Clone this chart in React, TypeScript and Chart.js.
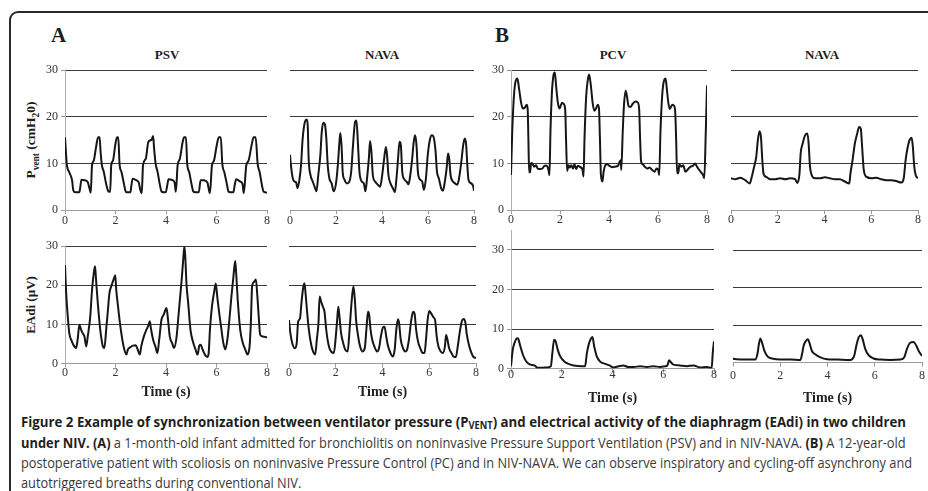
import React, { useEffect, useLayoutEffect, useRef } from 'react';
import { Chart, registerables } from 'chart.js';

Chart.register(...registerables);

// ---------------- DATA (time s, value) ----------------
const xTicks = [0, 2, 4, 6, 8];
const yTicks = [0, 10, 20, 30];

const psvPressure = [
  [0, 15.6], [0.07, 9.9], [0.17, 8.1], [0.28, 6.4], [0.33, 4.2], [0.41, 3.8], [0.57, 3.8], [0.6, 4.7], [0.65, 6.5], [0.77, 6.4], [0.9, 6.0], [0.97, 4.6], [1.02, 3.7],
  [1.07, 9.6], [1.14, 10.6], [1.23, 13.5], [1.31, 15.6], [1.37, 15.6], [1.41, 12.4], [1.46, 9.7], [1.54, 8.1], [1.63, 5.6], [1.72, 4.0], [1.79, 3.9],
  [1.83, 9.6], [1.9, 10.6], [1.99, 13.9], [2.06, 15.6], [2.11, 15.6], [2.16, 9.9], [2.24, 8.1], [2.32, 6.0], [2.39, 4.2], [2.43, 3.8], [2.59, 3.8], [2.63, 5.3], [2.68, 6.7], [2.82, 6.4], [2.92, 5.9], [2.98, 4.4], [3.04, 3.6],
  [3.09, 9.6], [3.2, 11], [3.3, 14.6], [3.43, 15.1], [3.49, 15.9], [3.53, 13.1], [3.59, 9.9], [3.67, 8.1], [3.75, 5.6], [3.82, 4.0], [3.89, 3.8], [3.99, 3.8], [4.05, 5.3], [4.1, 6.6], [4.26, 6.4], [4.34, 5.9], [4.39, 3.9],
  [4.46, 9.6], [4.55, 11], [4.66, 14.6], [4.72, 15.6], [4.79, 15.6], [4.84, 9.9], [4.92, 8.1], [5.01, 5.6], [5.08, 4.0], [5.15, 3.8], [5.3, 3.8], [5.37, 6.4], [5.5, 6.4], [5.64, 5.9], [5.69, 4.6], [5.74, 3.6],
  [5.82, 9.6], [5.9, 10.6], [6.01, 13.9], [6.09, 15.6], [6.17, 15.6], [6.23, 9.9], [6.31, 8.1], [6.41, 5.6], [6.47, 4.0], [6.54, 3.8], [6.67, 3.8], [6.72, 5.3], [6.78, 6.6], [6.94, 6.1], [7.03, 5.6], [7.08, 3.6],
  [7.18, 9.6], [7.27, 10.6], [7.39, 13.9], [7.47, 15.6], [7.55, 15.6], [7.63, 9.9], [7.71, 8.1], [7.8, 5.3], [7.86, 4.0], [7.93, 3.8], [8.0, 3.7],
];

const navaAPressure = [
  [0, 11.8], [0.04, 9.6], [0.12, 6.8], [0.19, 6.1], [0.26, 6.0], [0.33, 4.7], [0.41, 6.5], [0.48, 9.6], [0.55, 15.3], [0.65, 18.9], [0.73, 19.4], [0.77, 18.2], [0.81, 11.1], [0.89, 7.5], [0.99, 6.1], [1.09, 4.7], [1.15, 4.0],
  [1.23, 7.5], [1.32, 11.8], [1.38, 16.7], [1.45, 18.7], [1.52, 18.3], [1.58, 15.3], [1.64, 9.6], [1.71, 6.8], [1.81, 5.7], [1.9, 4.0], [2.0, 5.7], [2.08, 9.6], [2.15, 14.6], [2.19, 16.5], [2.24, 13.9], [2.29, 8.2],
  [2.37, 6.5], [2.48, 5.7], [2.58, 6.1], [2.66, 8.2], [2.74, 13.9], [2.83, 18.9], [2.89, 19.2], [2.95, 14.6], [3.02, 8.2], [3.12, 6.1], [3.21, 5.7], [3.28, 4.0], [3.35, 6.8], [3.43, 11.1], [3.48, 14.8], [3.54, 12.5],
  [3.6, 7.5], [3.7, 6.1], [3.82, 5.4], [3.92, 5.0], [3.99, 6.8], [4.08, 10.4], [4.17, 13.5], [4.22, 11.8], [4.28, 7.5], [4.37, 5.7], [4.47, 4.7], [4.56, 3.8], [4.63, 6.8], [4.7, 11.1], [4.76, 14.6], [4.82, 13.9],
  [4.88, 8.2], [4.98, 6.5], [5.08, 6.0], [5.15, 5.5], [5.21, 6.8], [5.3, 10.4], [5.38, 14.6], [5.44, 16.0], [5.5, 13.9], [5.56, 8.2], [5.66, 6.5], [5.75, 6.1], [5.82, 4.3], [5.91, 6.8], [5.99, 11.8], [6.08, 15.0],
  [6.17, 16.0], [6.26, 15.3], [6.33, 12.5], [6.39, 8.2], [6.47, 6.8], [6.57, 4.7], [6.65, 4.1], [6.72, 5.7], [6.81, 8.9], [6.87, 12.1], [6.92, 11.1], [6.98, 7.5], [7.08, 6.1], [7.18, 5.7], [7.27, 5.4], [7.34, 6.5],
  [7.45, 10.4], [7.53, 13.9], [7.6, 15.3], [7.66, 13.9], [7.71, 9.6], [7.76, 6.5], [7.88, 5.7], [7.97, 5.0], [8.0, 4.1],
];

const psvEadi = [
  [0, 25.2], [0.04, 18.8], [0.11, 12.0], [0.17, 7.8], [0.27, 5.7], [0.37, 4.4], [0.44, 4.0], [0.5, 6.1], [0.57, 9.9], [0.64, 8.6], [0.7, 7.8], [0.77, 6.9], [0.84, 4.4], [0.9, 6.9], [1.0, 12.0], [1.07, 18.8],
  [1.14, 23.1], [1.19, 24.9], [1.23, 21.4], [1.3, 15.4], [1.37, 10.3], [1.43, 6.9], [1.5, 4.4], [1.56, 4.0], [1.63, 8.6], [1.7, 13.7], [1.76, 18.0], [1.83, 19.7], [1.92, 21.4], [1.99, 22.6], [2.03, 18.8],
  [2.1, 14.6], [2.16, 11.2], [2.23, 7.8], [2.32, 4.4], [2.43, 2.3], [2.49, 3.6], [2.59, 4.2], [2.69, 4.6], [2.8, 4.7], [2.88, 3.6], [2.96, 2.3], [3.02, 4.4], [3.12, 6.9], [3.22, 8.6], [3.3, 9.7], [3.36, 10.8],
  [3.4, 9.1], [3.49, 6.1], [3.58, 4.4], [3.66, 2.7], [3.73, 6.1], [3.82, 11.2], [3.91, 12.5], [4.02, 14.2], [4.08, 11.2], [4.15, 6.9], [4.24, 5.3], [4.32, 4.0], [4.42, 6.9], [4.48, 11.2], [4.55, 16.3],
  [4.62, 21.4], [4.68, 26.4], [4.73, 30.0], [4.77, 26.4], [4.81, 20.5], [4.88, 15.4], [4.97, 8.6], [5.08, 5.3], [5.17, 3.6], [5.25, 2.3], [5.32, 4.6], [5.37, 4.8], [5.45, 3.6], [5.54, 2.3], [5.64, 1.7],
  [5.69, 2.7], [5.74, 8.6], [5.82, 14.6], [5.9, 18.0], [5.97, 20.5], [6.03, 17.1], [6.1, 13.3], [6.18, 9.5], [6.27, 5.3], [6.35, 3.6], [6.43, 6.1], [6.51, 11.2], [6.59, 17.1], [6.67, 22.2], [6.74, 26.2],
  [6.78, 23.1], [6.84, 16.3], [6.94, 8.6], [7.04, 5.3], [7.14, 3.6], [7.23, 2.3], [7.31, 4.4], [7.36, 10.3], [7.41, 19.7], [7.49, 20.9], [7.56, 21.5], [7.62, 17.1], [7.68, 11.2], [7.73, 7.4], [7.84, 6.9], [8.0, 6.7],
];

const navaAEadi = [
  [0, 11.1], [0.06, 7.7], [0.14, 5.2], [0.25, 3.9], [0.33, 5.2], [0.39, 10.7], [0.47, 11.5], [0.53, 15.3], [0.6, 19.1], [0.66, 20.5], [0.71, 17.8], [0.78, 12.8], [0.85, 8.6], [0.95, 4.8], [1.03, 3.1], [1.12, 2.3],
  [1.19, 6.1], [1.26, 10.3], [1.31, 17.1], [1.38, 15.7], [1.45, 14.5], [1.52, 13.2], [1.58, 9.4], [1.65, 6.1], [1.73, 3.9], [1.83, 2.9], [1.92, 2.7], [1.99, 6.1], [2.06, 11.1], [2.11, 14.5], [2.16, 11.9],
  [2.23, 7.7], [2.32, 5.2], [2.41, 3.5], [2.51, 3.1], [2.58, 7.7], [2.65, 13.6], [2.71, 17.8], [2.76, 19.7], [2.82, 16.1], [2.87, 11.1], [2.96, 6.9], [3.04, 4.4], [3.14, 3.1], [3.24, 3.9], [3.32, 9.4],
  [3.38, 13.2], [3.43, 12.4], [3.49, 8.6], [3.56, 6.1], [3.65, 4.4], [3.77, 3.1], [3.85, 3.9], [3.93, 6.9], [4.02, 9.2], [4.09, 9.4], [4.16, 6.9], [4.24, 4.4], [4.34, 2.7], [4.44, 1.8], [4.52, 3.5],
  [4.59, 8.6], [4.66, 11.3], [4.71, 10.3], [4.78, 6.1], [4.88, 3.9], [4.97, 3.1], [5.05, 3.5], [5.13, 6.1], [5.23, 11.1], [5.31, 13.2], [5.37, 12.8], [5.44, 8.6], [5.52, 5.6], [5.62, 3.9], [5.72, 2.7],
  [5.8, 2.7], [5.86, 6.1], [5.93, 11.1], [6.0, 13.4], [6.08, 12.8], [6.18, 11.8], [6.25, 11.1], [6.32, 6.9], [6.39, 4.4], [6.49, 3.1], [6.58, 2.7], [6.67, 4.4], [6.72, 7.3], [6.78, 6.1], [6.85, 3.9],
  [6.95, 2.7], [7.04, 1.8], [7.14, 1.7], [7.22, 4.4], [7.32, 8.6], [7.41, 11.1], [7.48, 11.4], [7.55, 10.3], [7.6, 7.7], [7.68, 5.2], [7.78, 3.1], [7.88, 1.8], [8.0, 1.4],
];

const pcvPressure = [
  [0, 7.5], [0.05, 16.7], [0.12, 24.5], [0.19, 27.7], [0.26, 28.2], [0.33, 26.0], [0.41, 23.1], [0.48, 21.8], [0.57, 22.0], [0.64, 22.6], [0.68, 21.7], [0.71, 15.3], [0.74, 8.1], [0.78, 8.1], [0.82, 10.1],
  [0.87, 10.0], [0.94, 9.3], [1.02, 9.6], [1.09, 8.9], [1.19, 8.8], [1.28, 8.9], [1.37, 9.5], [1.46, 9.5], [1.53, 8.6], [1.57, 7.5], [1.61, 16.7], [1.67, 25.2], [1.73, 28.8], [1.79, 29.5], [1.84, 26.7],
  [1.91, 23.1], [1.98, 21.8], [2.08, 23.0], [2.14, 22.8], [2.21, 21.7], [2.25, 14.6], [2.29, 8.4], [2.35, 9.6], [2.4, 9.1], [2.46, 9.6], [2.53, 8.9], [2.59, 9.8], [2.66, 8.8], [2.73, 9.5], [2.83, 9.2],
  [2.92, 8.6], [2.96, 7.2], [3.0, 15.3], [3.07, 24.5], [3.14, 28.1], [3.19, 29.1], [3.26, 26.7], [3.33, 23.1], [3.4, 21.3], [3.47, 21.8], [3.54, 22.6], [3.59, 21.8], [3.63, 15.3], [3.67, 7.5], [3.73, 6.1],
  [3.78, 8.2], [3.85, 9.6], [3.93, 9.8], [4.01, 9.5], [4.12, 9.2], [4.26, 9.3], [4.37, 9.5], [4.44, 10.4], [4.48, 10.7], [4.5, 8.6], [4.56, 16.7], [4.61, 22.4], [4.68, 25.6], [4.74, 24.2], [4.79, 22.4],
  [4.87, 22.1], [4.97, 22.8], [5.08, 23.3], [5.17, 23.1], [5.23, 21.7], [5.27, 15.3], [5.31, 10.4], [5.38, 9.8], [5.46, 9.3], [5.56, 8.9], [5.65, 9.1], [5.76, 8.6], [5.86, 8.2], [5.94, 8.9], [6.01, 8.6],
  [6.05, 7.5], [6.1, 16.7], [6.17, 24.5], [6.24, 27.7], [6.31, 28.2], [6.36, 26.0], [6.42, 23.1], [6.48, 21.7], [6.58, 22.6], [6.65, 22.4], [6.7, 21.3], [6.74, 15.3], [6.78, 7.9], [6.83, 7.9], [6.87, 9.8],
  [6.95, 9.3], [7.03, 9.6], [7.12, 8.2], [7.23, 8.8], [7.33, 9.3], [7.43, 9.5], [7.51, 10.0], [7.56, 9.6], [7.64, 8.9], [7.74, 8.2], [7.84, 7.5], [7.89, 6.8], [7.95, 16.7], [8.0, 26.7],
];

const navaBPressure = [
  [0, 6.8], [0.18, 6.6], [0.4, 6.9], [0.61, 6.4], [0.8, 5.7], [0.89, 7.1], [0.99, 9.3], [1.08, 11.4], [1.15, 15.0], [1.22, 16.9], [1.28, 15.7], [1.34, 10.7], [1.39, 7.8], [1.51, 7.1], [1.68, 6.6],
  [1.89, 6.6], [2.1, 6.8], [2.32, 6.6], [2.53, 6.8], [2.74, 6.6], [2.84, 5.8], [2.93, 7.8], [2.98, 12.1], [3.07, 14.3], [3.17, 16.0], [3.27, 16.4], [3.32, 14.3], [3.38, 9.3], [3.45, 7.5], [3.59, 6.8],
  [3.81, 6.8], [4.02, 7.0], [4.23, 6.8], [4.45, 6.6], [4.66, 6.6], [4.87, 6.1], [5.06, 5.7], [5.11, 7.8], [5.2, 10.7], [5.3, 14.3], [5.4, 16.4], [5.48, 17.8], [5.55, 17.5], [5.61, 13.5], [5.68, 8.6],
  [5.8, 7.1], [6.01, 6.8], [6.22, 6.9], [6.43, 6.6], [6.65, 6.4], [6.86, 6.4], [7.07, 6.2], [7.29, 5.9], [7.39, 6.8], [7.47, 10.7], [7.56, 13.5], [7.64, 15.0], [7.73, 15.5], [7.78, 13.5], [7.84, 9.3],
  [7.9, 7.5], [8.0, 6.8],
];

const pcvEadi = [
  [0, 0.6], [0.07, 4.8], [0.14, 6.5], [0.24, 7.7], [0.29, 7.5], [0.37, 5.6], [0.47, 3.5], [0.6, 1.8], [0.76, 1.0], [0.92, 0.8], [1.05, 0.2], [1.22, 0.2], [1.42, 0.3], [1.57, 0.6], [1.63, 3.9],
  [1.7, 7.3], [1.76, 6.9], [1.84, 4.8], [1.94, 3.1], [2.1, 1.8], [2.27, 1.2], [2.47, 0.8], [2.79, 0.6], [2.92, 0.6], [2.99, 3.9], [3.08, 6.5], [3.16, 7.7], [3.21, 8.0], [3.28, 5.6], [3.38, 3.1],
  [3.51, 1.8], [3.71, 1.2], [3.88, 0.8], [4.04, 0.3], [4.24, 0.6], [4.43, 0.8], [4.63, 0.4], [4.83, 0.4], [5.09, 0.6], [5.35, 0.4], [5.61, 0.6], [5.88, 0.4], [6.07, 0.6], [6.16, 0.8], [6.23, 2.1],
  [6.3, 1.6], [6.4, 1.0], [6.66, 0.8], [6.92, 0.6], [7.19, 0.8], [7.45, 0.3], [7.71, 0.4], [7.91, 0.2], [7.95, 3.9], [8.0, 6.9],
];

const navaBEadi = [
  [0, 1.0], [0.45, 0.8], [0.94, 0.8], [1.04, 2.5], [1.1, 5.1], [1.16, 6.4], [1.23, 5.3], [1.33, 3.1], [1.47, 1.6], [1.65, 1.1], [2.0, 0.8], [2.43, 0.8], [2.85, 0.7], [2.92, 2.2], [2.99, 4.5],
  [3.09, 5.8], [3.17, 6.2], [3.24, 5.2], [3.34, 3.1], [3.48, 2.2], [3.7, 1.4], [3.98, 0.9], [4.4, 0.8], [4.96, 0.7], [5.13, 1.8], [5.22, 4.5], [5.32, 6.7], [5.42, 7.3], [5.49, 6.2], [5.6, 3.6],
  [5.74, 2.0], [5.95, 1.1], [6.23, 0.8], [6.66, 0.7], [7.08, 0.8], [7.25, 1.4], [7.36, 3.6], [7.5, 5.3], [7.64, 5.5], [7.76, 4.5], [7.86, 3.1], [8.0, 1.8],
];

// ---------------- LAYOUT ----------------
const SERIF = '"Liberation Serif", "Times New Roman", "DejaVu Serif", serif';

type PanelSpec = {
  data: number[][];
  left: number; right: number; top: number; bottom: number;
  yMax: number; showY: boolean;
  labelOffset: number; title?: string; titleOffset?: number;
};

const panels: PanelSpec[] = [
  { data: psvPressure, left: 65, right: 267, top: 70, bottom: 210, yMax: 30, showY: true, labelOffset: 11 },
  { data: navaAPressure, left: 290, right: 474, top: 70, bottom: 210, yMax: 30, showY: false, labelOffset: 11 },
  { data: psvEadi, left: 65, right: 267, top: 246, bottom: 364, yMax: 30, showY: true, labelOffset: 9, title: 'Time (s)', titleOffset: 28 },
  { data: navaAEadi, left: 289, right: 476, top: 246, bottom: 364, yMax: 30, showY: false, labelOffset: 9, title: 'Time (s)', titleOffset: 28 },
  { data: pcvPressure, left: 511, right: 707, top: 70, bottom: 210, yMax: 30, showY: true, labelOffset: 10 },
  { data: navaBPressure, left: 731, right: 918, top: 70, bottom: 210, yMax: 30, showY: false, labelOffset: 10 },
  { data: pcvEadi, left: 511, right: 714, top: 369 - 35 * (119 / 30), bottom: 369, yMax: 35, showY: true, labelOffset: 6, title: 'Time (s)', titleOffset: 29 },
  { data: navaBEadi, left: 733, right: 922, top: 250, bottom: 363, yMax: 30, showY: false, labelOffset: 13, title: 'Time (s)', titleOffset: 35 },
];

const PAD_TOP = 10;
const PAD_RIGHT = 8;

function geometry(p: PanelSpec) {
  const yW = p.showY ? 30 : 12;
  const xH = p.title ? (p.titleOffset as number) + 9.4 : p.labelOffset + 10;
  const w = Math.round(yW + (p.right - p.left) + PAD_RIGHT);
  const h = Math.round(PAD_TOP + (p.bottom - p.top) + xH);
  return { yW, xH, w, h, cl: p.left - yW, ct: p.top - PAD_TOP };
}

function buildConfig(p: PanelSpec, g: ReturnType<typeof geometry>): any {
  const tickFont = { family: SERIF, size: 12 };
  return {
    type: 'line',
    data: {
      datasets: [{
        data: p.data.map(([x, y]) => ({ x, y })),
        borderColor: '#161616',
        borderWidth: 2,
        pointRadius: 0,
        cubicInterpolationMode: 'monotone',
        fill: false,
      }],
    },
    options: {
      animation: false,
      responsive: false,
      maintainAspectRatio: false,
      devicePixelRatio: 1,
      layout: { padding: { top: PAD_TOP, right: PAD_RIGHT, left: 0, bottom: 0 } },
      plugins: { legend: { display: false }, tooltip: { enabled: false }, title: { display: false } },
      scales: {
        x: {
          type: 'linear', min: 0, max: 8,
          afterBuildTicks: (s: any) => { s.ticks = xTicks.map((v) => ({ value: v })); },
          ticks: { font: tickFont, color: '#333', padding: p.labelOffset - 4 - 7.2, maxRotation: 0, autoSkip: false },
          grid: { drawOnChartArea: false, drawTicks: true, tickLength: 4, tickColor: '#9a9a9a', color: '#9a9a9a' },
          border: { display: true, color: '#9a9a9a', width: 1 },
          title: p.title ? { display: true, text: p.title, font: { family: SERIF, size: 14, weight: 'bold' }, color: '#222', padding: { top: 0, bottom: 0 } } : { display: false },
          afterFit: (s: any) => { s.height = g.xH; },
        },
        y: {
          type: 'linear', min: 0, max: p.yMax,
          afterBuildTicks: (s: any) => { s.ticks = yTicks.map((v) => ({ value: v })); },
          ticks: { display: p.showY, font: tickFont, color: '#333', padding: 3 },
          grid: {
            drawTicks: p.showY, tickLength: 4, tickColor: '#9a9a9a',
            color: (ctx: any) => (ctx.tick && ctx.tick.value === 0 ? 'rgba(0,0,0,0)' : '#3a3a3a'),
            lineWidth: 1,
          },
          border: { display: p.showY, color: '#b0b0b0', width: 1 },
          afterFit: (s: any) => { s.width = g.yW; },
        },
      },
    },
  };
}

function Panel({ spec }: { spec: PanelSpec }) {
  const ref = useRef<HTMLCanvasElement>(null);
  const g = geometry(spec);
  useEffect(() => {
    if (!ref.current) return;
    const chart = new Chart(ref.current, buildConfig(spec, g));
    return () => chart.destroy();
  }, []);
  return (
    <canvas
      ref={ref}
      width={g.w}
      height={g.h}
      style={{ position: 'absolute', left: g.cl, top: g.ct, width: g.w, height: g.h }}
    />
  );
}

const captionLineStyle: React.CSSProperties = {
  position: 'absolute', left: 21, whiteSpace: 'nowrap', transformOrigin: '0 0',
  fontFamily: '"Open Sans", "Noto Sans", sans-serif', fontSize: 14, lineHeight: '20px', color: '#3a3a3a',
};

const B = ({ children }: { children: any }) => <span style={{ fontWeight: 700, color: '#1e1e1e' }}>{children}</span>;

function Caption() {
  const r1 = useRef<HTMLDivElement>(null);
  const r2 = useRef<HTMLDivElement>(null);
  const r3 = useRef<HTMLDivElement>(null);
  const r4 = useRef<HTMLDivElement>(null);
  useLayoutEffect(() => {
    const fit = () => {
      const els = [r1.current, r2.current, r3.current, r4.current];
      if (els.some((e) => !e)) return;
      els.forEach((e) => { (e as HTMLDivElement).style.transform = 'none'; });
      const targets = [885, 885, 891];
      const scales = targets.map((t, i) => t / (els[i] as HTMLDivElement).scrollWidth);
      scales.forEach((s, i) => { (els[i] as HTMLDivElement).style.transform = `scaleX(${s})`; });
      (els[3] as HTMLDivElement).style.transform = `scaleX(${scales[2]})`;
    };
    fit();
    const f = (document as any).fonts;
    if (f && f.ready) f.ready.then(fit);
  }, []);
  return (
    <>
      <div ref={r1} style={{ ...captionLineStyle, top: 412 }}>
        <B>Figure 2 Example of synchronization between ventilator pressure (P<sub style={{ fontSize: '0.7em', verticalAlign: '-0.25em' }}>VENT</sub>) and electrical activity of the diaphragm (EAdi) in two children</B>
      </div>
      <div ref={r2} style={{ ...captionLineStyle, top: 433 }}>
        <B>under NIV. (A)</B> a 1-month-old infant admitted for bronchiolitis on noninvasive Pressure Support Ventilation (PSV) and in NIV-NAVA. <B>(B)</B> A 12-year-old
      </div>
      <div ref={r3} style={{ ...captionLineStyle, top: 453 }}>
        postoperative patient with scoliosis on noninvasive Pressure Control (PC) and in NIV-NAVA. We can observe inspiratory and cycling-off asynchrony and
      </div>
      <div ref={r4} style={{ ...captionLineStyle, top: 473 }}>
        autotriggered breaths during conventional NIV.
      </div>
    </>
  );
}

const panelTitles = [
  { text: 'PSV', x: 167 }, { text: 'NAVA', x: 382 }, { text: 'PCV', x: 613 }, { text: 'NAVA', x: 822 },
];

export default function App() {
  return (
    <div style={{ position: 'absolute', left: 0, top: 0, width: 928, height: 491, overflow: 'hidden', background: '#fff' }}>
      <div style={{ position: 'absolute', left: 9, top: 11, width: 1000, height: 600, borderTop: '2px solid #2a2a2a', borderLeft: '2px solid #2a2a2a', borderTopLeftRadius: 9 }} />

      <div style={{ position: 'absolute', left: 51, top: 25, fontFamily: SERIF, fontWeight: 700, fontSize: 21, lineHeight: '21px', color: '#1e1e1e' }}>A</div>
      <div style={{ position: 'absolute', left: 495, top: 25, fontFamily: SERIF, fontWeight: 700, fontSize: 21, lineHeight: '21px', color: '#1e1e1e' }}>B</div>

      {panelTitles.map((t, i) => (
        <div key={i} style={{ position: 'absolute', left: t.x, top: 48, transform: 'translateX(-50%)', fontFamily: SERIF, fontWeight: 700, fontSize: 13, lineHeight: '13px', color: '#1e1e1e', whiteSpace: 'nowrap' }}>{t.text}</div>
      ))}

      <div style={{ position: 'absolute', left: 32, top: 140, transform: 'translate(-50%, -50%) rotate(-90deg)', fontFamily: SERIF, fontWeight: 700, fontSize: 13.5, color: '#1e1e1e', whiteSpace: 'nowrap' }}>
        P<sub style={{ fontSize: '0.7em' }}>vent</sub> (cmH<sub style={{ fontSize: '0.7em' }}>2</sub>0)
      </div>
      <div style={{ position: 'absolute', left: 31, top: 305, transform: 'translate(-50%, -50%) rotate(-90deg)', fontFamily: SERIF, fontWeight: 700, fontSize: 13, color: '#1e1e1e', whiteSpace: 'nowrap' }}>
        EAdi (µV)
      </div>

      {panels.map((p, i) => <Panel key={i} spec={p} />)}

      <Caption />
    </div>
  );
}
